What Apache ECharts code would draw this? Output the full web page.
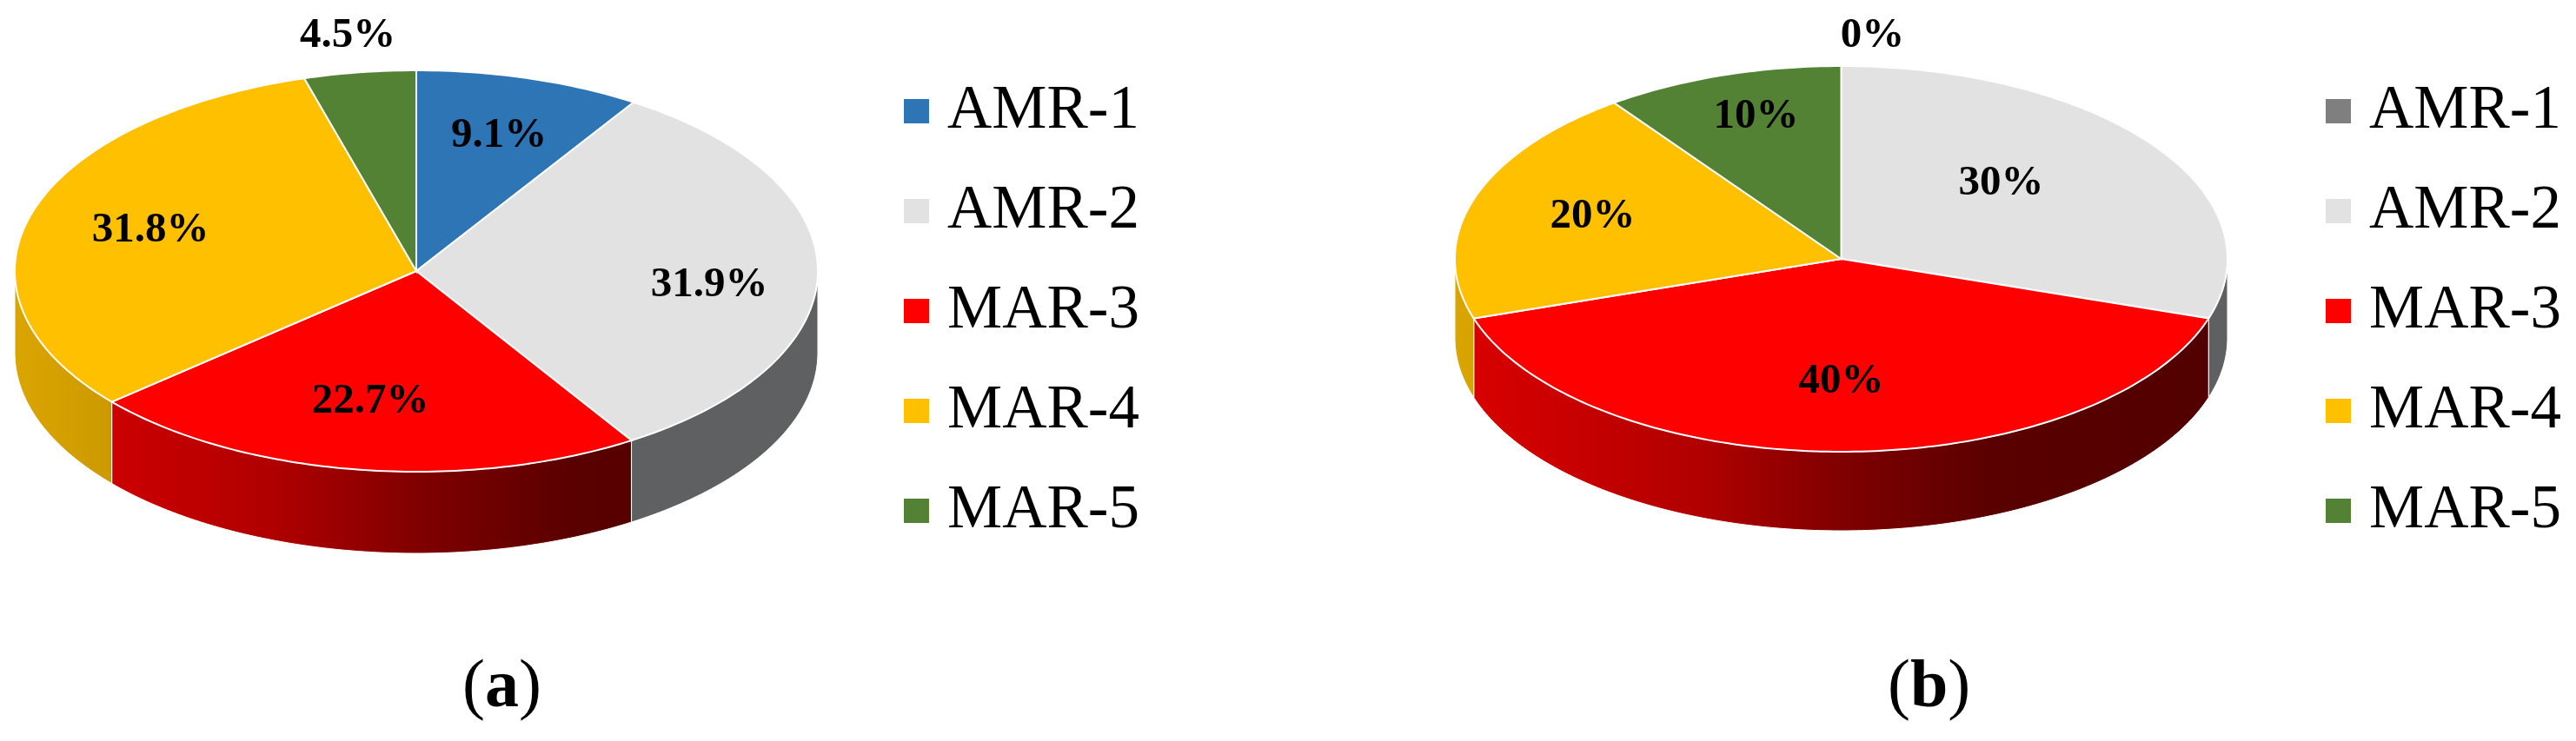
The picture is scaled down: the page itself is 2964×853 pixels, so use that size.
<!DOCTYPE html>
<html>
<head>
<meta charset="utf-8">
<style>
  html, body { margin: 0; padding: 0; background: #fff; }
  .chart_wrap { position: absolute; top: 0; width: 1482px; height: 853px; }
</style>
<script src="https://cdn.jsdelivr.net/npm/echarts@6/dist/echarts.min.js"></script>
</head>
<body>
<div class="chart_wrap" id="chartA" style="left:0"></div>
<div class="chart_wrap" id="chartB" style="left:1482px"></div>
<script>
var categories = ['AMR-1', 'AMR-2', 'MAR-3', 'MAR-4', 'MAR-5'];
var valuesA = [9.1, 31.9, 22.7, 31.8, 4.5];
var valuesB = [0, 30, 40, 20, 10];
var colorsA = ['#2e75b6', '#e2e2e2', '#ff0000', '#ffc000', '#548235'];
var colorsB = ['#7f7f7f', '#e2e2e2', '#ff0000', '#ffc000', '#548235'];

// 椭圆饼图的位置
var layoutA = {
  cx: 479, cy: 312, rx: 462, ry: 231, depth: 94,
  labels: [[95, -156], [337, 16], [-53, 150], [-306, -47], [-79, -271]],
  legendLeft: 1040, caption: 'a', captionLeft: 532
};
var layoutB = {
  cx: 636.5, cy: 298, rx: 444.5, ry: 222, depth: 91,
  labels: [[36, -257], [184, -87], [0, 141], [-286, -49], [-98, -164]],
  legendLeft: 1194, caption: 'b', captionLeft: 690
};

// 侧面明暗：x 位置 -> 亮度
var shadeStops = [[0, 0.86], [0.12, 0.8], [0.32, 0.69], [0.5, 0.5], [0.7, 0.35], [1, 0.32]];
// 灰色侧面是纯色
var greySide = '#5f6061';

function shade(color, k) {
  var n = parseInt(color.slice(1), 16);
  return 'rgb(' + Math.round((n >> 16) * k) + ',' + Math.round(((n >> 8) & 255) * k) + ',' + Math.round((n & 255) * k) + ')';
}

function sideFill(color, lay) {
  if (color == '#e2e2e2') {
    return greySide;
  }
  var stops = [];
  for (var s = 0; s < shadeStops.length; s++) {
    stops.push({ offset: shadeStops[s][0], color: shade(color, shadeStops[s][1]) });
  }
  return new echarts.graphic.LinearGradient(lay.cx - lay.rx, 0, lay.cx + lay.rx, 0, stops, true);
}

function rimPoint(lay, deg, drop) {
  var a = deg * Math.PI / 180;
  return [lay.cx + lay.rx * Math.sin(a), lay.cy - lay.ry * Math.cos(a) + drop];
}

function arcPoints(lay, from, to, drop) {
  var pts = [];
  var steps = Math.max(1, Math.ceil(Math.abs(to - from)));
  for (var i = 0; i <= steps; i++) {
    pts.push(rimPoint(lay, from + (to - from) * i / steps, drop));
  }
  return pts;
}

function sliceItem(values, index, colors, lay, api) {
  var total = 0, before = 0;
  for (var i = 0; i < values.length; i++) {
    total += values[i];
    if (i < index) before += values[i];
  }
  var value = api.value(0);
  var start = before / total * 360;
  var end = (before + value) / total * 360;
  var children = [];

  if (value > 0) {
    // 只有朝前的部分才有侧面
    var lo = Math.max(start, 90), hi = Math.min(end, 270);
    if (hi > lo) {
      children.push({
        type: 'polygon',
        z2: 1,
        shape: { points: arcPoints(lay, lo, hi, 0).concat(arcPoints(lay, hi, lo, lay.depth)) },
        style: { fill: sideFill(colors[index], lay), stroke: '#fff', lineWidth: 1 }
      });
    }
    children.push({
      type: 'polygon',
      z2: 2,
      shape: { points: [[lay.cx, lay.cy]].concat(arcPoints(lay, start, end, 0)) },
      style: { fill: colors[index], stroke: '#fff', lineWidth: 2 }
    });
  }
  children.push({
    type: 'text',
    z2: 3,
    style: {
      x: lay.cx + lay.labels[index][0],
      y: lay.cy + lay.labels[index][1],
      text: value + '%',
      font: 'bold 49px "Liberation Serif"',
      fill: '#000',
      align: 'center',
      verticalAlign: 'middle'
    }
  });
  return { type: 'group', children: children };
}

function buildOption(values, colors, lay) {
  var series = [];
  categories.forEach(function(name, index) {
    series.push({
      type: 'custom',
      name: name,
      coordinateSystem: 'none',
      z: index,
      itemStyle: { color: colors[index] },
      data: [[values[index]]],
      renderItem: function(params, api) {
        return sliceItem(values, index, colors, lay, api);
      }
    });
  });
  return {
    animation: false,
    tooltip: { show: false },
    title: {
      left: lay.captionLeft,
      top: 754,
      padding: 0,
      text: '{n|(}{b|' + lay.caption + '}{n|)}',
      textStyle: {
        fontWeight: 'normal',
        rich: {
          n: { fontFamily: 'Liberation Serif', fontSize: 78, fontWeight: 'normal', color: '#000' },
          b: { fontFamily: 'Liberation Serif', fontSize: 78, fontWeight: 'bold', color: '#000' }
        }
      }
    },
    legend: {
      orient: 'vertical',
      left: lay.legendLeft,
      top: 88,
      padding: 0,
      icon: 'rect',
      itemWidth: 29,
      itemHeight: 28,
      itemGap: 35,
      selectedMode: false,
      data: categories,
      textStyle: {
        fontFamily: 'Liberation Serif',
        fontSize: 71,
        lineHeight: 80,
        color: '#000',
        padding: [0, 0, 0, 16]
      }
    },
    series: series
  };
}

var chartA = echarts.init(document.getElementById('chartA'));
chartA.setOption(buildOption(valuesA, colorsA, layoutA));
var chartB = echarts.init(document.getElementById('chartB'));
chartB.setOption(buildOption(valuesB, colorsB, layoutB));
</script>
</body>
</html>
